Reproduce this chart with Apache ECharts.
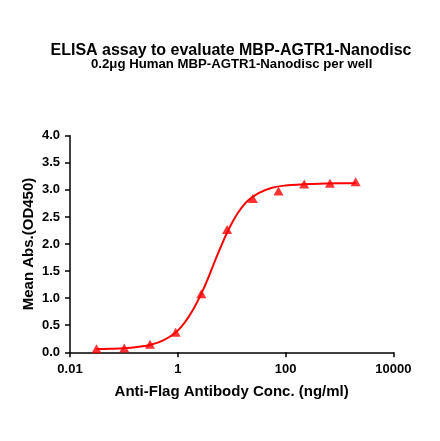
<!DOCTYPE html>
<html>
<head>
<meta charset="utf-8">
<script src="https://cdn.jsdelivr.net/npm/echarts@6/dist/echarts.min.js"></script>
<style>
html,body{margin:0;padding:0;background:#fff;}
#chart{width:440px;height:441px;}
</style>
</head>
<body>
<div id="chart"></div>
<script>
// Measured points (antibody conc. ng/ml, OD450)
var conc = [0.031, 0.1016, 0.305, 0.914, 2.74, 8.23, 24.7, 74.1, 222, 667, 2000];
var od = [0.066, 0.08, 0.15, 0.37, 1.08, 2.27, 2.84, 2.98, 3.11, 3.12, 3.15];
// Fitted curve
var curveX = [0.031, 0.056, 0.1, 0.178, 0.316, 0.562, 1, 1.78, 3.16, 5.62, 10, 17.8, 31.6, 56.2, 100, 316, 1000, 2000];
var curveY = [0.06, 0.065, 0.075, 0.10, 0.14, 0.23, 0.40, 0.73, 1.22, 1.83, 2.38, 2.75, 2.94, 3.04, 3.08, 3.11, 3.12, 3.12];
var xTicks = ['0.01', '1', '100', '10000'];
var yTicks = [0, 0.5, 1.0, 1.5, 2.0, 2.5, 3.0, 3.5, 4.0];
var titleText = 'ELISA assay to evaluate MBP-AGTR1-Nanodisc';
var subText = '0.2\u03bcg Human MBP-AGTR1-Nanodisc per well';
var xName = 'Anti-Flag Antibody Conc. (ng/ml)';
var yName = 'Mean Abs.(OD450)';

var FONT = '"Liberation Sans", Arial, sans-serif';
var chart = echarts.init(document.getElementById('chart'));
var pts = conc.map(function (x, i) { return [x, od[i]]; });
var curve = curveX.map(function (x, i) { return [x, curveY[i]]; });

chart.setOption({
  animation: false,
  backgroundColor: '#fff',
  graphic: [
    { type: 'text', x: 231, y: 50.7, style: { text: titleText, font: 'bold 16px ' + FONT, fill: '#000', textAlign: 'center', textVerticalAlign: 'middle' } },
    { type: 'text', x: 231.7, y: 64.3, style: { text: subText, font: 'bold 13.2px ' + FONT, fill: '#000', textAlign: 'center', textVerticalAlign: 'middle' } }
  ],
  grid: { left: 70, right: 46.7, top: 135.7, bottom: 88.7, containLabel: false },
  xAxis: {
    type: 'log',
    logBase: 100,
    min: 0.01,
    max: 10000,
    name: xName,
    nameLocation: 'middle',
    nameGap: 32,
    nameMoveOverlap: false,
    nameTextStyle: { fontFamily: FONT, fontWeight: 'bold', fontSize: 15, color: '#000' },
    axisLine: { show: true, lineStyle: { color: '#000', width: 1.5 } },
    axisTick: { show: true, length: 5, lineStyle: { color: '#000', width: 1.5 } },
    minorTick: { show: false },
    splitLine: { show: false },
    axisLabel: {
      margin: 11,
      fontFamily: FONT, fontWeight: 'bold', fontSize: 13, color: '#000',
      formatter: function (v) {
        var lg = Math.round(Math.log10(v));
        var idx = (lg + 2) / 2;
        return xTicks[idx] !== undefined ? xTicks[idx] : '';
      }
    }
  },
  yAxis: {
    type: 'value',
    min: 0,
    max: 4,
    interval: 0.5,
    name: yName,
    nameLocation: 'middle',
    nameGap: 34,
    nameMoveOverlap: false,
    nameTextStyle: { fontFamily: FONT, fontWeight: 'bold', fontSize: 15, color: '#000' },
    axisLine: { show: true, lineStyle: { color: '#000', width: 1.5 } },
    axisTick: { show: true, length: 5, lineStyle: { color: '#000', width: 1.5 } },
    splitLine: { show: false },
    axisLabel: {
      margin: 10,
      fontFamily: FONT, fontWeight: 'bold', fontSize: 13, color: '#000',
      formatter: function (v) { return yTicks.indexOf(v) >= 0 ? v.toFixed(1) : ''; }
    }
  },
  series: [
    {
      type: 'line',
      data: curve,
      smooth: 0.4,
      showSymbol: false,
      symbol: 'none',
      lineStyle: { color: '#ff0000', width: 2 },
      z: 2
    },
    {
      type: 'scatter',
      data: pts,
      symbol: 'triangle',
      symbolSize: [10, 9],
      itemStyle: { color: '#ff0000' },
      z: 3
    }
  ]
});
</script>
</body>
</html>
